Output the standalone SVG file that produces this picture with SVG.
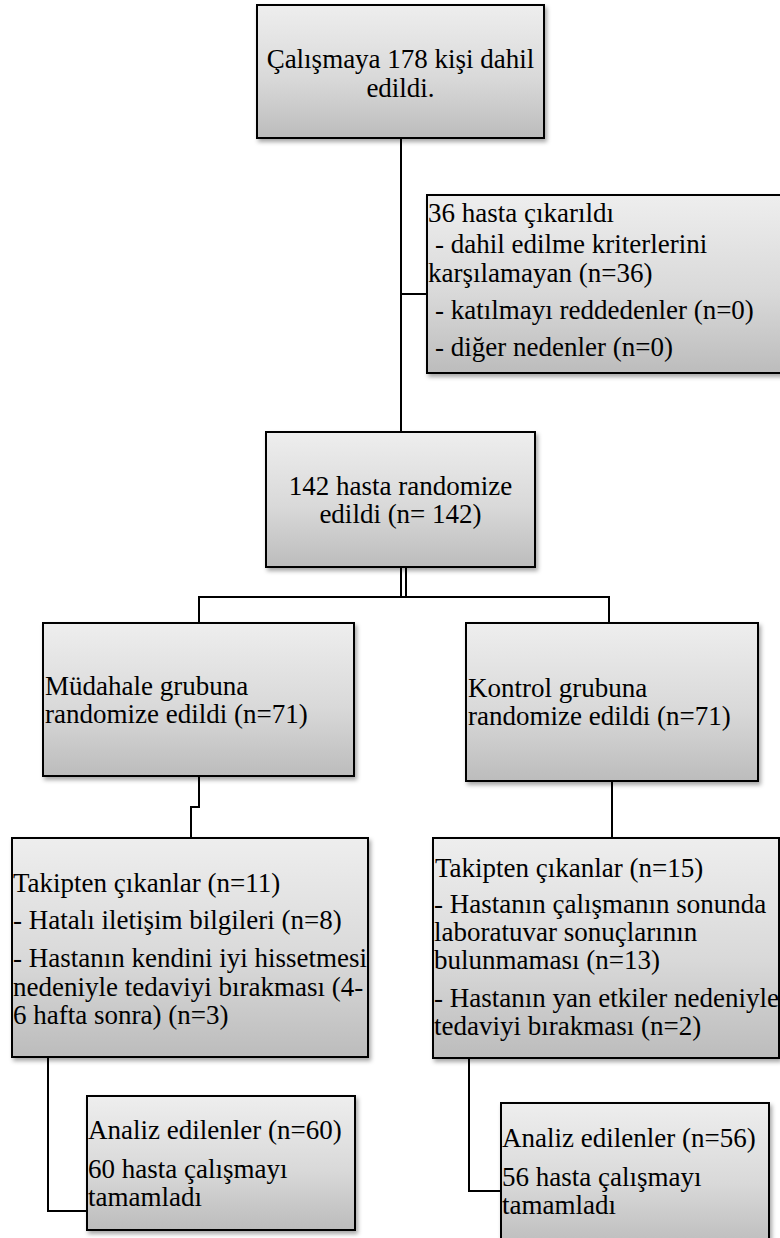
<svg xmlns="http://www.w3.org/2000/svg" width="780" height="1238" viewBox="0 0 780 1238">
<style>
.box{fill:url(#g);stroke:#000;stroke-width:2;filter:url(#sh)}
.ln{fill:none;stroke:#000;stroke-width:2}
.t{font-family:"Liberation Serif","Times New Roman",serif;font-size:27px;fill:#000}
.c{text-anchor:middle}
</style>
<defs>
<linearGradient id="g" x1="0" y1="0" x2="0" y2="1">
<stop offset="0" stop-color="#eeeeee"/>
<stop offset="0.55" stop-color="#d9d9d9"/>
<stop offset="1" stop-color="#bcbcbc"/>
</linearGradient>
<filter id="sh" x="-5%" y="-5%" width="115%" height="120%">
<feDropShadow dx="2" dy="3" stdDeviation="2" flood-color="#000" flood-opacity="0.35"/>
</filter>
</defs>
<g id="connectors" class="ln">
<path d="M401 138V432"/>
<path d="M401 294H427"/>
<path d="M401 567V597M406 567V597"/>
<path d="M199 623V597H609V623"/>
<path d="M199 776V807H191V838"/>
<path d="M612 781V838"/>
<path d="M48 1057V1211H87"/>
<path d="M469 1058V1191H501"/>
</g>
<g id="n1">
<rect class="box" x="257" y="5" width="287" height="133"/>
<text class="t c" x="400.5" y="68">Çalışmaya 178 kişi dahil</text>
<text class="t c" x="400.5" y="97">edildi.</text>
</g>
<g id="n2">
<rect class="box" x="427" y="195" width="365" height="178"/>
<text class="t" x="428" y="222">36 hasta çıkarıldı</text>
<text class="t" x="435" y="253">- dahil edilme kriterlerini</text>
<text class="t" x="428" y="282">karşılamayan (n=36)</text>
<text class="t" x="435" y="319">- katılmayı reddedenler (n=0)</text>
<text class="t" x="435" y="356">- diğer nedenler (n=0)</text>
</g>
<g id="n3">
<rect class="box" x="266" y="432" width="269" height="135"/>
<text class="t c" x="400.5" y="495">142 hasta randomize</text>
<text class="t c" x="400.5" y="523">edildi (n= 142)</text>
</g>
<g id="n4">
<rect class="box" x="43" y="623" width="311" height="153"/>
<text class="t" x="45" y="695">Müdahale grubuna</text>
<text class="t" x="45" y="723">randomize edildi (n=71)</text>
</g>
<g id="n5">
<rect class="box" x="466" y="623" width="292" height="158"/>
<text class="t" x="468" y="697">Kontrol grubuna</text>
<text class="t" x="468" y="725">randomize edildi (n=71)</text>
</g>
<g id="n6">
<rect class="box" x="12" y="838" width="356" height="219"/>
<text class="t" x="13" y="892">Takipten çıkanlar (n=11)</text>
<text class="t" x="13" y="929">- Hatalı iletişim bilgileri (n=8)</text>
<text class="t" x="13" y="967">- Hastanın kendini iyi hissetmesi</text>
<text class="t" x="13" y="996">nedeniyle tedaviyi bırakması (4-</text>
<text class="t" x="13" y="1024">6 hafta sonra) (n=3)</text>
</g>
<g id="n7">
<rect class="box" x="433" y="838" width="346" height="220"/>
<text class="t" x="435" y="877">Takipten çıkanlar (n=15)</text>
<text class="t" x="434" y="913">- Hastanın çalışmanın sonunda</text>
<text class="t" x="434" y="941">laboratuvar sonuçlarının</text>
<text class="t" x="434" y="969">bulunmaması (n=13)</text>
<text class="t" x="434" y="1007">- Hastanın yan etkiler nedeniyle</text>
<text class="t" x="434" y="1035">tedaviyi bırakması (n=2)</text>
</g>
<g id="n8">
<rect class="box" x="87" y="1096" width="268" height="134"/>
<text class="t" x="88" y="1139">Analiz edilenler (n=60)</text>
<text class="t" x="88" y="1178">60 hasta çalışmayı</text>
<text class="t" x="88" y="1206">tamamladı</text>
</g>
<g id="n9">
<rect class="box" x="501" y="1103" width="268" height="145"/>
<text class="t" x="502" y="1147">Analiz edilenler (n=56)</text>
<text class="t" x="502" y="1186">56 hasta çalışmayı</text>
<text class="t" x="502" y="1214">tamamladı</text>
</g>
</svg>
